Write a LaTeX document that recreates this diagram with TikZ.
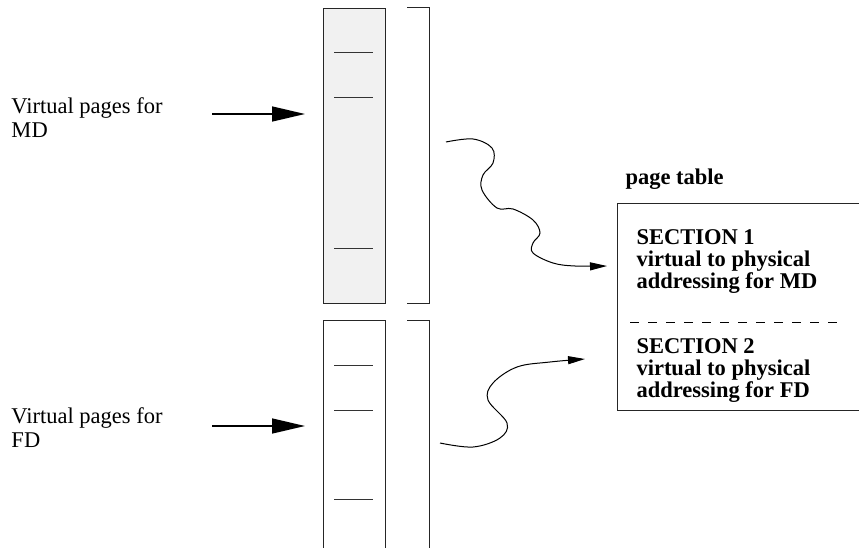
\documentclass[tikz,border=0pt]{standalone}
\usepackage{fontspec}
\setmainfont{Liberation Serif}
\usetikzlibrary{arrows.meta}
\begin{document}
\begin{tikzpicture}[x=1pt,y=-1pt,line width=1pt,
  bigarrow/.style={line width=1.5pt,-{Triangle[length=33pt,width=15pt]}},
  smallarrow/.style={line width=1pt,-{Triangle[length=17pt,width=8pt]}},
  lbl/.style={font=\fontsize{22.5}{24}\selectfont,align=left,anchor=north west,inner sep=0pt},
  btxt/.style={font=\fontsize{22.5}{22}\bfseries\selectfont,align=left,anchor=north west,inner sep=0pt},
  column/.style={draw=black!85,minimum width=62pt,inner sep=0pt,anchor=north west},
  tick/.style={line width=1pt,black!80},
  bracket/.style={draw=black!85,line width=1pt}]
\useasboundingbox (0,0) rectangle (859,548);

% columns
\node[column,fill=gray!11,minimum height=295pt] (col1) at (323,8) {};
\node[column,minimum height=240pt] (col2) at (323,320) {};
\draw[tick] (334,53) -- (373,53);
\draw[tick] (334,98) -- (373,98);
\draw[tick] (334,248) -- (373,248);
\draw[tick] (334,365) -- (373,365);
\draw[tick] (334,410) -- (373,410);
\draw[tick] (334,499) -- (373,499);

% brackets
\draw[bracket] (407,8) -- (429,8) -- (429,303) -- (407,303);
\draw[bracket] (407,320) -- (429,320) -- (429,560);

% left labels and arrows
\node[lbl] (lmd) at (11,97) {Virtual pages for\\MD};
\node[lbl] (lfd) at (11,407) {Virtual pages for\\FD};
\coordinate (amd) at (212,114);
\coordinate (afd) at (212,426);
\draw[bigarrow] (amd) -- ([xshift=-18pt]amd -| col1.west);
\draw[bigarrow] (afd) -- ([xshift=-18pt]afd -| col2.west);

% page table
\node[font=\fontsize{22.5}{22}\bfseries\selectfont,anchor=base west,inner sep=0pt] (ptl) at (625,185) {page table};
\node[draw=black!85,anchor=north west,minimum width=262pt,minimum height=207pt,inner sep=0pt] (pt) at (617,203) {};
\draw[dash pattern=on 9pt off 9pt] (630,322) -- (845,322);
\node[btxt] (sec1) at (636,229) {SECTION 1\\virtual to physical\\addressing for MD};
\node[btxt] (sec2) at (636,338) {SECTION 2\\virtual to physical\\addressing for FD};

% squiggles
\coordinate (s1) at (446,142);
\coordinate (t1) at (607,266);
\coordinate (s2) at (440,443);
\coordinate (t2) at (585,359);
\draw[smallarrow] plot[smooth,tension=0.6] coordinates {(s1) (473,139) (492,148) (493,163) (483,175) (482,190) (497,208) (513,209) (533,220) (540,233) (533,243) (533,253) (553,263) (575,266) (t1)};
\draw[smallarrow] plot[smooth,tension=0.6] coordinates {(s2) (473,447) (500,438) (507,423) (488,400) (493,383) (517,367) (550,362) (t2)};
\end{tikzpicture}
\end{document}
